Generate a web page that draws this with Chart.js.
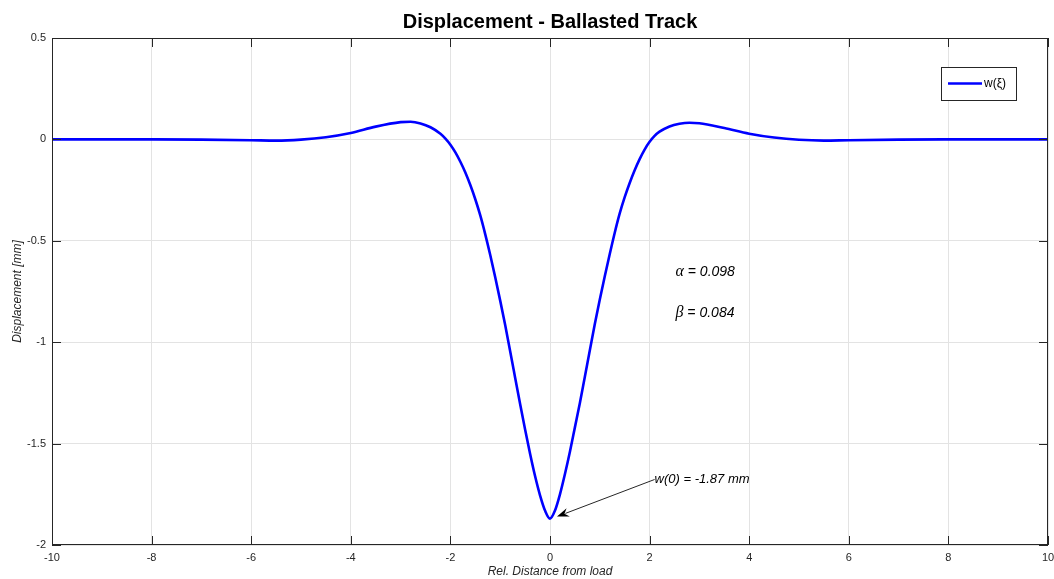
<!DOCTYPE html>
<html>
<head>
<meta charset="utf-8">
<title>Displacement - Ballasted Track</title>
<script src="https://cdn.jsdelivr.net/npm/chart.js@4.4.1/dist/chart.umd.min.js"></script>
<style>
  html, body { margin: 0; padding: 0; background: #fff; }
</style>
</head>
<body>
<canvas id="dispChart" width="1054" height="579"></canvas>
<script>
// Data
const xValues = [-10, -8, -7, -6, -5.5, -5, -4.5, -4, -3.5, -3, -2.8, -2.6, -2.4, -2.2, -2.1, -2, -1.9,
  -1.8, -1.7, -1.6, -1.5, -1.4, -1.3, -1.2, -1.1, -1, -0.9, -0.8, -0.7, -0.6, -0.5, -0.4, -0.3, -0.2, -0.1,
  0, 0.1, 0.2, 0.3, 0.4, 0.5, 0.6, 0.7, 0.8, 0.9, 1, 1.1, 1.2, 1.3, 1.4, 1.5, 1.6, 1.7, 1.8, 1.9,
  2, 2.1, 2.2, 2.4, 2.6, 2.8, 3, 3.5, 4, 4.5, 5, 5.5, 6, 7, 8, 10];
const wValues = [0, 0, -0.001, -0.004, -0.006, -0.001, 0.011, 0.032, 0.063, 0.085, 0.087, 0.079, 0.06, 0.028, 0.004, -0.026, -0.064,
  -0.11, -0.163, -0.225, -0.295, -0.375, -0.468, -0.57, -0.68, -0.795, -0.915, -1.045, -1.175, -1.305, -1.43, -1.55, -1.66, -1.755, -1.83,
  -1.87, -1.83, -1.75, -1.65, -1.54, -1.42, -1.3, -1.17, -1.04, -0.91, -0.79, -0.675, -0.565, -0.46, -0.365, -0.285, -0.215, -0.152, -0.097, -0.05,
  -0.012, 0.017, 0.038, 0.064, 0.077, 0.082, 0.08, 0.056, 0.028, 0.009, -0.002, -0.006, -0.004, -0.001, 0, 0];

const xTicks = [-10, -8, -6, -4, -2, 0, 2, 4, 6, 8, 10];
const yTicks = [0.5, 0, -0.5, -1, -1.5, -2];

const alphaText = ' = 0.098';
const betaText = ' = 0.084';
const w0Text = 'w(0) = -1.87 mm';
const w0 = -1.87;

const axisColor = '#262626';

// Box, inward ticks, legend, annotations, title
const matlabLook = {
    id: 'matlabLook',
    afterDatasetsDraw(chart) {
        const { ctx, chartArea: a, scales: { x, y } } = chart;
        ctx.save();

        // axes box
        ctx.strokeStyle = axisColor;
        ctx.lineWidth = 1;
        ctx.strokeRect(a.left + 0.5, a.top + 0.5, a.right - a.left - 1, a.bottom - a.top - 1);

        // inward ticks on all four sides
        const tl = 9;
        ctx.beginPath();
        xTicks.forEach(v => {
            const px = Math.round(x.getPixelForValue(v)) + 0.5;
            ctx.moveTo(px, a.bottom); ctx.lineTo(px, a.bottom - tl);
            ctx.moveTo(px, a.top); ctx.lineTo(px, a.top + tl);
        });
        yTicks.forEach(v => {
            const py = Math.round(y.getPixelForValue(v)) + 0.5;
            ctx.moveTo(a.left, py); ctx.lineTo(a.left + tl, py);
            ctx.moveTo(a.right, py); ctx.lineTo(a.right - tl, py);
        });
        ctx.stroke();

        // legend box
        const lx = a.right - 107, ly = a.top + 29, lw = 75, lh = 33;
        ctx.fillStyle = '#fff';
        ctx.fillRect(lx, ly, lw, lh);
        ctx.strokeStyle = '#262626';
        ctx.strokeRect(lx + 0.5, ly + 0.5, lw, lh);
        ctx.strokeStyle = '#0000ff';
        ctx.lineWidth = 2.6;
        ctx.beginPath();
        ctx.moveTo(lx + 7, ly + 16.5);
        ctx.lineTo(lx + 41, ly + 16.5);
        ctx.stroke();
        ctx.fillStyle = '#000';
        ctx.font = '12px "Liberation Sans", Arial, sans-serif';
        ctx.textBaseline = 'middle';
        ctx.textAlign = 'left';
        ctx.fillText(chart.data.datasets[0].label, lx + 43, ly + 17);

        // alpha / beta annotations
        const drawGreek = (sym, rest, xv, yv) => {
            const px = x.getPixelForValue(xv), py = y.getPixelForValue(yv);
            ctx.font = 'italic 16px "Liberation Serif", "DejaVu Serif", serif';
            ctx.fillText(sym, px, py);
            const gw = ctx.measureText(sym).width;
            ctx.font = 'italic 14px "Liberation Sans", Arial, sans-serif';
            ctx.fillText(rest, px + gw, py);
        };
        ctx.fillStyle = '#000';
        drawGreek('\u03B1', alphaText, 2.52, -0.655);
        drawGreek('\u03B2', betaText, 2.52, -0.857);

        // w(0) label with arrow
        const tx = x.getPixelForValue(2.1), ty = y.getPixelForValue(-1.677);
        ctx.font = 'italic 13px "Liberation Sans", Arial, sans-serif';
        ctx.fillText(w0Text, tx, ty);
        const hx = x.getPixelForValue(0.14), hy = y.getPixelForValue(w0 + 0.01);
        const ang = Math.atan2(hy - ty, hx - tx);
        const c = Math.cos(ang), s = Math.sin(ang);
        ctx.strokeStyle = axisColor;
        ctx.lineWidth = 1;
        ctx.beginPath();
        ctx.moveTo(tx, ty);
        ctx.lineTo(hx - 9 * c, hy - 9 * s);
        ctx.stroke();
        ctx.fillStyle = '#000';
        ctx.beginPath();
        ctx.moveTo(hx, hy);
        ctx.lineTo(hx - 12 * c + 4.5 * s, hy - 12 * s - 4.5 * c);
        ctx.lineTo(hx - 8 * c, hy - 8 * s);
        ctx.lineTo(hx - 12 * c - 4.5 * s, hy - 12 * s + 4.5 * c);
        ctx.closePath();
        ctx.fill();

        // title
        ctx.fillStyle = '#000';
        ctx.font = 'bold 20px "Liberation Sans", Arial, sans-serif';
        ctx.textAlign = 'center';
        ctx.fillText('Displacement - Ballasted Track', (a.left + a.right) / 2, 22);

        ctx.restore();
    }
};

const ctx = document.getElementById('dispChart').getContext('2d');

const dispChart = new Chart(ctx, {
    type: 'line',
    data: {
        datasets: [{
            label: 'w(\u03BE)',
            data: xValues.map((xv, i) => ({ x: xv, y: wValues[i] })),
            borderColor: '#0000ff',
            borderWidth: 2.6,
            pointRadius: 0,
            cubicInterpolationMode: 'monotone',
            fill: false
        }]
    },
    options: {
        responsive: false,
        animation: false,
        layout: { padding: { top: 38, right: 6, left: 0, bottom: 0 } },
        plugins: {
            legend: { display: false },
            title: { display: false },
            tooltip: { enabled: false }
        },
        scales: {
            x: {
                type: 'linear',
                min: -10,
                max: 10,
                afterBuildTicks: s => { s.ticks = xTicks.map(v => ({ value: v })); },
                afterFit: s => { s.height = 34; s.paddingLeft = 0; s.paddingRight = 0; },
                grid: { color: '#e3e3e3', drawTicks: false },
                border: { display: false },
                ticks: {
                    padding: 6,
                    color: axisColor,
                    font: { family: '"Liberation Sans", Arial, sans-serif', size: 11 },
                    callback: v => String(v)
                },
                title: {
                    display: true,
                    text: 'Rel. Distance from load',
                    color: axisColor,
                    padding: 0,
                    font: { family: '"Liberation Sans", Arial, sans-serif', size: 12, style: 'italic' }
                }
            },
            y: {
                min: -2,
                max: 0.5,
                afterBuildTicks: s => { s.ticks = yTicks.map(v => ({ value: v })); },
                afterFit: s => { s.width = 52; s.paddingTop = 0; s.paddingBottom = 0; },
                grid: { color: '#e3e3e3', drawTicks: false },
                border: { display: false },
                ticks: {
                    padding: 6,
                    color: axisColor,
                    font: { family: '"Liberation Sans", Arial, sans-serif', size: 11 },
                    callback: v => String(v)
                },
                title: {
                    display: true,
                    text: 'Displacement [mm]',
                    color: axisColor,
                    padding: { top: 10, bottom: 0 },
                    font: { family: '"Liberation Sans", Arial, sans-serif', size: 12, style: 'italic' }
                }
            }
        }
    },
    plugins: [matlabLook]
});
</script>
</body>
</html>
